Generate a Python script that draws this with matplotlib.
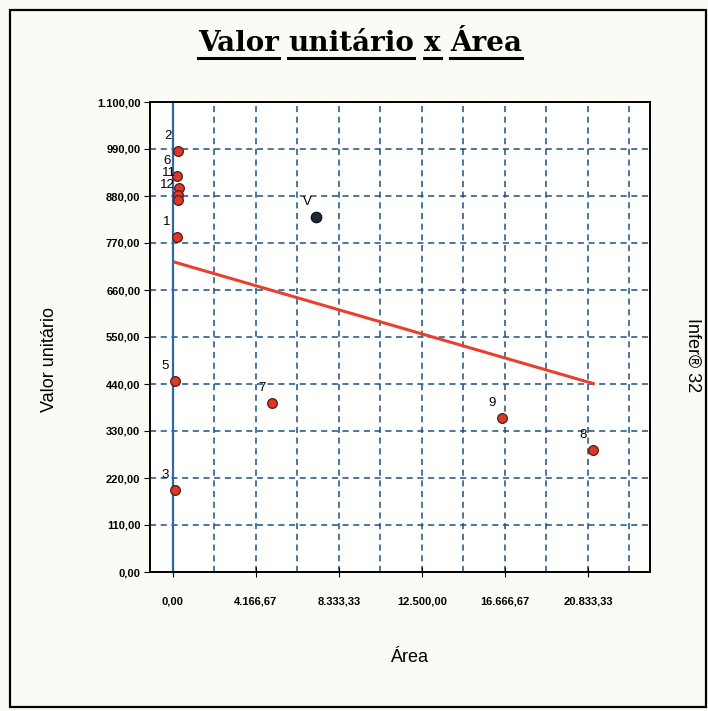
import matplotlib.pyplot as plt
from matplotlib.lines import Line2D
from matplotlib.patches import Rectangle

# dados
pt_labels = ["2", "6", "11", "", "12", "1", "5", "7", "3", "9", "8"]
area = [250, 200, 300, 250, 250, 185, 100, 4950, 100, 16500, 21100]
valor = [985, 926, 898, 882, 870, 785, 446, 396, 191, 360, 286]

v_area = 7200
v_valor = 831

reg_x = [100, 21100]
reg_y = [725, 441]

xticks = [0, 4166.67, 8333.33, 12500.00, 16666.67, 20833.33]
xticklabels = ["0,00", "4.166,67", "8.333,33", "12.500,00", "16.666,67", "20.833,33"]
xminor = [2083.33, 6250.00, 10416.67, 14583.33, 18750.00, 22916.67]
yticks = [0, 110, 220, 330, 440, 550, 660, 770, 880, 990, 1100]
yticklabels = ["0,00", "110,00", "220,00", "330,00", "440,00", "550,00",
               "660,00", "770,00", "880,00", "990,00", "1.100,00"]

W, H = 708, 711
fig = plt.figure(figsize=(W / 100, H / 100), dpi=100)
fig.patch.set_facecolor("#fbfbf6")
fig.add_artist(Rectangle((10 / W, 4 / H), 696 / W, 697 / H, transform=fig.transFigure,
                         fill=False, edgecolor="black", linewidth=1.6))

ax = fig.add_axes([150 / W, 1 - 572 / H, 500 / W, 470 / H])
ax.set_facecolor("white")
ax.set_xlim(-1150, 23950)
ax.set_ylim(0, 1100)

ax.set_xticks(xticks)
ax.set_xticklabels(xticklabels)
ax.set_xticks(xminor, minor=True)
ax.set_yticks(yticks)
ax.set_yticklabels(yticklabels)
for lab in ax.get_xticklabels() + ax.get_yticklabels():
    lab.set_family("Liberation Sans")
    lab.set_fontsize(8)
    lab.set_weight("bold")
ax.tick_params(axis="x", which="major", direction="inout", length=7, pad=14)
ax.tick_params(axis="x", which="minor", length=0)
ax.tick_params(axis="y", direction="out", length=4, pad=3)

grid_kw = dict(color="#1d4f80", linestyle=(0, (4, 3)), linewidth=1.1)
ax.grid(True, which="both", **grid_kw)
ax.set_axisbelow(True)
for s in ax.spines.values():
    s.set_linewidth(1.4)

ax.axvline(0, color="#2c6aa5", linewidth=1.6, zorder=2)

ax.plot(reg_x, reg_y, color="#e8402c", linewidth=2.2, zorder=3)
ax.plot(area, valor, "o", markersize=7, markerfacecolor="#d8392c",
        markeredgecolor="#5a1a12", markeredgewidth=0.9, linestyle="none", zorder=4)
ax.plot([v_area], [v_valor], "o", markersize=7.5, markerfacecolor="#1b2838",
        markeredgecolor="#0a0f18", markeredgewidth=0.9, zorder=4)

for x, y, t in zip(area, valor, pt_labels):
    ax.annotate(t, (x, y), xytext=(-10, 15), textcoords="offset pixels",
                ha="center", va="center", fontsize=9.5, family="Liberation Sans", zorder=5)
ax.annotate("V", (v_area, v_valor), xytext=(-9, 15), textcoords="offset pixels",
            ha="center", va="center", fontsize=9.5, family="Liberation Sans", zorder=5)

fig.text(50 / W, 1 - 360 / H, "Valor unitário", rotation=90, ha="center", va="center",
         fontsize=13, family="Liberation Sans")
fig.text(409 / W, 1 - 657 / H, "Área", ha="center", va="center",
         fontsize=13, family="Liberation Sans")
fig.text(693 / W, 1 - 355 / H, "Infer® 32", rotation=-90, ha="center", va="center",
         fontsize=13, family="Liberation Sans")

# título com cada palavra sublinhada
words = ["Valor", "unitário", "x", "Área"]
tprops = dict(fontsize=20, family="DejaVu Serif", weight="bold")
r = fig.canvas.get_renderer()
widths = []
for w in words:
    t = fig.text(0, 0, w, **tprops)
    widths.append(t.get_window_extent(r).width)
    t.remove()
t1 = fig.text(0, 0, "x x", **tprops)
t2 = fig.text(0, 0, "xx", **tprops)
space = t1.get_window_extent(r).width - t2.get_window_extent(r).width
t1.remove()
t2.remove()
total = sum(widths) + space * (len(words) - 1)
x0 = 360 - total / 2
base = H - 51
for w, wd in zip(words, widths):
    fig.text(x0 / W, base / H, w, ha="left", va="baseline", **tprops)
    fig.add_artist(Line2D([x0 / W, (x0 + wd) / W], [(base - 7) / H, (base - 7) / H],
                          transform=fig.transFigure, color="black", linewidth=2.2))
    x0 += wd + space

fig.savefig("out.png", dpi=100, facecolor=fig.get_facecolor())
